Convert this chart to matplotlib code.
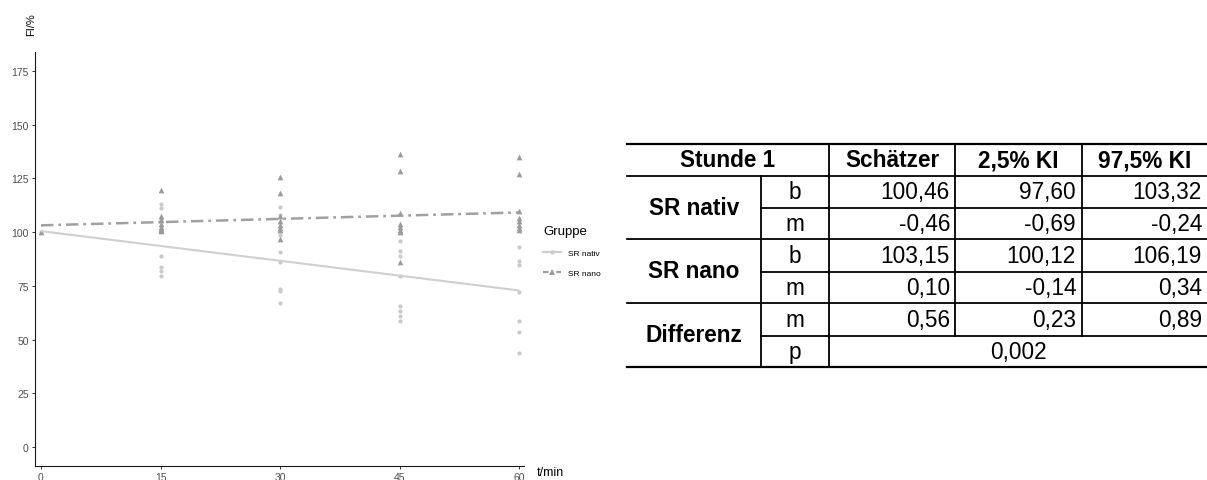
import matplotlib
matplotlib.use("Agg")
import matplotlib.pyplot as plt
from matplotlib.lines import Line2D

plt.rcParams["font.family"] = ["Liberation Sans", "DejaVu Sans"]
plt.rcParams["lines.scale_dashes"] = False

# ---- measurements (fluorescence intensity in % of start value) ----
nativ_t = [0, 15, 15, 15, 15, 15, 15, 15, 15,
           30, 30, 30, 30, 30, 30, 30, 30,
           45, 45, 45, 45, 45, 45, 45, 45,
           60, 60, 60, 60, 60, 60, 60]
nativ_fi = [100, 113, 111, 105.5, 100.5, 89, 84, 82, 79.5,
            111.7, 108, 98.7, 90.6, 86.2, 73.5, 72.7, 67.2,
            95.8, 91.4, 88.8, 79.7, 65.7, 63.5, 61, 58.6,
            93, 86.7, 84.7, 72.2, 58.6, 53.7, 43.8]

nano_t = [0, 15, 15, 15, 15, 15, 15, 15, 15,
          30, 30, 30, 30, 30, 30, 30, 30,
          45, 45, 45, 45, 45, 45, 45, 45,
          60, 60, 60, 60, 60, 60, 60, 60]
nano_fi = [100, 119.5, 107.5, 105.5, 104, 102.5, 101.5, 101, 100.5,
           125.7, 118, 107.5, 105, 103.5, 102, 101, 97,
           136.2, 128.4, 109, 103.9, 102.5, 101, 100, 86.2,
           134.8, 127, 109.6, 106.5, 105, 103.5, 102, 100.8]

x_ticks = [0, 15, 30, 45, 60]
y_ticks = [0, 25, 50, 75, 100, 125, 150, 175]

# ---- model estimates table ----
groups = ["SR nativ", "SR nano", "Differenz"]
params = ["b", "m", "b", "m", "m", "p"]
estimate = [100.46, -0.46, 103.15, 0.10, 0.56]
ci_low = [97.60, -0.69, 100.12, -0.14, 0.23]
ci_high = [103.32, -0.24, 106.19, 0.34, 0.89]
p_value = 0.002
header = ["Stunde 1", "Schätzer", "2,5% KI", "97,5% KI"]

W, H = 1207, 481
fig = plt.figure(figsize=(W / 100, H / 100), dpi=100)

# ---- scatter + regression lines ----
ax = fig.add_axes([35 / W, (H - 467) / H, (524 - 35) / W, (467 - 53) / H])
c_nativ_pt, c_nano_pt = "#c9c9c9", "#9a9a9a"
c_nativ_ln, c_nano_ln = "#cfcfcf", "#a0a0a0"

ax.scatter(nativ_t, nativ_fi, s=9, marker="o", color=c_nativ_pt, lw=0, zorder=2)
ax.scatter(nano_t, nano_fi, s=17, marker="^", color=c_nano_pt, lw=0, zorder=2)

xs = [0, 60]
ax.plot(xs, [estimate[0] + estimate[1] * x for x in xs], color=c_nativ_ln,
        lw=1.5, solid_capstyle="butt", zorder=3)
ax.plot(xs, [estimate[2] + estimate[3] * x for x in xs], color=c_nano_ln,
        lw=1.8, dashes=(9, 3.5, 2, 3.5), zorder=3)

ax.set_xlim(-0.75, 60.6)
ax.set_ylim(-8.75, 183.75)
ax.set_xticks(x_ticks)
ax.set_yticks(y_ticks)
for s in ("top", "right"):
    ax.spines[s].set_visible(False)
for s in ("left", "bottom"):
    ax.spines[s].set_color("#1a1a1a")
    ax.spines[s].set_linewidth(0.8)
ax.tick_params(length=2.5, width=0.7, color="#333333", labelcolor="#4d4d4d",
               labelsize=7.5, pad=2)

fig.text(31 / W, 1 - 25 / H, "FI/%", rotation=90, ha="center", va="center",
         fontsize=8)
fig.text(537 / W, 1 - 473 / H, "t/min", ha="left", va="center", fontsize=9)

handles = [
    Line2D([], [], color=c_nativ_ln, lw=1.5, marker="o", markersize=3,
           markerfacecolor=c_nativ_pt, markeredgewidth=0),
    Line2D([], [], color=c_nano_ln, lw=1.6, dashes=(4, 2, 1.5, 2), marker="^",
           markersize=4, markerfacecolor=c_nano_pt, markeredgewidth=0),
]
leg = fig.legend(handles, ["SR nativ", "SR nano"], title="Gruppe",
                 loc="upper left", bbox_to_anchor=(543 / W, 1 - 226 / H),
                 frameon=False, fontsize=6, title_fontsize=9.5,
                 handlelength=2.1, handletextpad=0.9, labelspacing=1.45,
                 borderpad=0, borderaxespad=0, alignment="left")

# ---- estimates table ----
tab = fig.add_axes([0, 0, 1, 1])
tab.set_xlim(0, W)
tab.set_ylim(H, 0)
tab.axis("off")

xl, xc1, xc2, xc3, xc4, xr = 627, 761, 829, 955, 1082, 1207
rows = [145, 177, 209, 240, 273, 304, 337, 368]
lw = 1.3
k = "black"

tab.plot([xl, xr], [rows[0]] * 2, color=k, lw=lw + 0.3)
tab.plot([xl, xr], [rows[-1]] * 2, color=k, lw=lw + 0.3)
for r in (rows[1], rows[3], rows[5]):
    tab.plot([xl, xr], [r, r], color=k, lw=lw)
for r in (rows[2], rows[4]):
    tab.plot([xc1, xr], [r, r], color=k, lw=lw)
tab.plot([xc1, xr], [rows[6]] * 2, color=k, lw=lw)
tab.plot([xc1, xc1], [rows[1], rows[-1]], color=k, lw=lw)
tab.plot([xc2, xc2], [rows[0], rows[-1]], color=k, lw=lw)
for xv in (xc3, xc4):
    tab.plot([xv, xv], [rows[0], rows[6]], color=k, lw=lw)

fs = 16.3
def fmt(v, d=2):
    return f"{v:.{d}f}".replace(".", ",")

hy = (rows[0] + rows[1]) / 2
tab.text((xl + xc2) / 2, hy, header[0], ha="center", va="center",
         fontsize=fs, fontweight="bold")
for (a, b), txt in zip([(xc2, xc3), (xc3, xc4), (xc4, xr)], header[1:]):
    tab.text((a + b) / 2, hy, txt, ha="center", va="center",
             fontsize=fs, fontweight="bold")

for gi, g in enumerate(groups):
    gy = (rows[1 + 2 * gi] + rows[3 + 2 * gi]) / 2
    tab.text((xl + xc1) / 2, gy, g, ha="center", va="center",
             fontsize=fs, fontweight="bold")

for i, p in enumerate(params):
    ry = (rows[1 + i] + rows[2 + i]) / 2
    tab.text((xc1 + xc2) / 2, ry, p, ha="center", va="center", fontsize=fs)
    if i < len(estimate):
        tab.text(xc3 - 5, ry, fmt(estimate[i]), ha="right", va="center", fontsize=fs)
        tab.text(xc4 - 6, ry, fmt(ci_low[i]), ha="right", va="center", fontsize=fs)
        tab.text(xr - 5, ry, fmt(ci_high[i]), ha="right", va="center", fontsize=fs)
    else:
        tab.text((xc2 + xr) / 2, ry, fmt(p_value, 3), ha="center",
                 va="center", fontsize=fs)

fig.savefig("out.png", dpi=100)
